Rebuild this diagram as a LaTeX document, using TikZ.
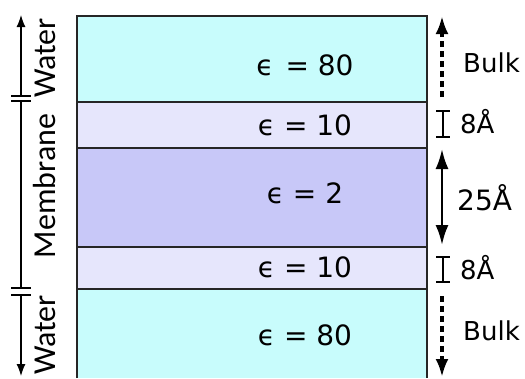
\documentclass[tikz,border=0pt]{standalone}
\usepackage{fontspec}
\setmainfont{DejaVu Sans}
\newfontfamily\calfont{Carlito}
\usetikzlibrary{arrows.meta}
\definecolor{waterc}{HTML}{C8FCFC}
\definecolor{headc}{HTML}{E6E6FC}
\definecolor{corec}{HTML}{C8C8F8}
\begin{document}
\begin{tikzpicture}[x=1pt,y=-1pt,
  edge/.style={draw=black!85, line width=1.4pt},
  epstext/.style={font=\fontsize{28}{32}\selectfont, inner sep=0pt, anchor=base},
  sidetext/.style={font=\calfont\fontsize{32}{34}\selectfont, rotate=90, inner sep=0pt},
  dimtext/.style={font=\fontsize{26}{30}\selectfont, inner sep=0pt, anchor=base west},
  axisline/.style={line width=1.2pt},
  axisarrow/.style={line width=1.2pt, -{Latex[length=12pt,width=9pt]}},
  bulkarrow/.style={line width=3.5pt, dash pattern=on 6pt off 4pt, -{Latex[length=18pt,width=13pt]}},
  corearrow/.style={line width=2.5pt, {Latex[length=20pt,width=13pt]}-{Latex[length=20pt,width=13pt]}},
  ibeam/.style={line width=1.5pt}
]
\useasboundingbox (0,0) rectangle (525,378);
% layers
\fill[waterc] (77,16) rectangle (427,102);
\fill[headc] (77,102) rectangle (427,148);
\fill[corec] (77,148) rectangle (427,247);
\fill[headc] (77,247) rectangle (427,289);
\fill[waterc] (77,289) rectangle (427,378);
\draw[edge] (77,378) -- (77,16) -- (427,16) -- (427,378);
\draw[edge] (77,102) -- (427,102);
\draw[edge] (77,148) -- (427,148);
\draw[edge] (77,247) -- (427,247);
\draw[edge] (77,289) -- (427,289);
% layer labels
\node[epstext] (e1) at (305,75) {ϵ\hspace{3pt} = 80};
\node[epstext] (e2) at (305,135) {ϵ = 10};
\node[epstext] (e3) at (305,203) {ϵ = 2};
\node[epstext] (e4) at (305,277) {ϵ = 10};
\node[epstext] (e5) at (305,345) {ϵ = 80};
% left axis
\coordinate (t1) at (21,15);
\coordinate (b1) at (21,96);
\coordinate (b2) at (21,101);
\coordinate (b3) at (21,288);
\coordinate (b4) at (21,295);
\coordinate (t2) at (21,376);
\draw[axisarrow] (b1) -- (t1);
\draw[axisline] (b2) -- (b3);
\draw[axisarrow] (b4) -- (t2);
\foreach \c in {b1,b2,b3,b4}
  \draw[axisline] ([xshift=-10pt]\c) -- ([xshift=10pt]\c);
\node[sidetext] (w1) at (45,58) {Water};
\node[sidetext] (mem) at (45,186) {Membrane};
\node[sidetext] (w2) at (45,335) {Water};
% right side
\coordinate (u1) at (442,97);
\coordinate (u2) at (442,16);
\draw[bulkarrow] (u1) -- (u2);
\node[dimtext] (bulk1) at (463,72) {Bulk};
\coordinate (i1a) at (443,111);
\coordinate (i1b) at (443,137);
\draw[ibeam] ([xshift=-7pt]i1a) -- ([xshift=7pt]i1a) (i1a) -- (i1b) ([xshift=-7pt]i1b) -- ([xshift=7pt]i1b);
\node[dimtext] (d1) at (460,133) {8Å};
\coordinate (c1) at (442,149);
\coordinate (c2) at (442,245);
\draw[corearrow] (c1) -- (c2);
\node[dimtext, font=\fontsize{28}{32}\selectfont] (d2) at (457,210) {25Å};
\coordinate (i2a) at (443,257);
\coordinate (i2b) at (443,282);
\draw[ibeam] ([xshift=-7pt]i2a) -- ([xshift=7pt]i2a) (i2a) -- (i2b) ([xshift=-7pt]i2b) -- ([xshift=7pt]i2b);
\node[dimtext] (d3) at (460,279) {8Å};
\coordinate (l1) at (442,296);
\coordinate (l2) at (442,377);
\draw[bulkarrow] (l1) -- (l2);
\node[dimtext] (bulk2) at (463,340) {Bulk};
\end{tikzpicture}
\end{document}
